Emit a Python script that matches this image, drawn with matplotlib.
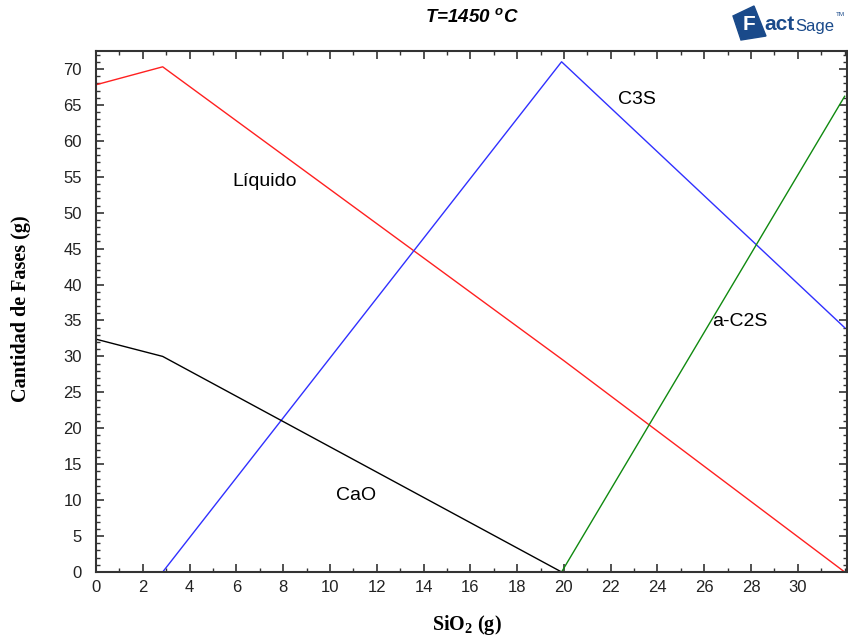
import matplotlib
matplotlib.use("Agg")
import matplotlib.pyplot as plt
from matplotlib.ticker import MultipleLocator
from matplotlib.patches import Polygon

# Data (SiO2 grams vs phase amounts)
liq_x = [0, 2.85, 20.0, 32.0]
liq_y = [67.8, 70.3, 29.4, 0.0]
c3s_x = [2.85, 19.9, 32.0]
c3s_y = [0.0, 71.0, 34.0]
c2s_x = [19.9, 32.0]
c2s_y = [0.0, 66.2]
cao_x = [0, 2.85, 19.9]
cao_y = [32.4, 30.0, 0.0]

x_ticks = list(range(0, 31, 2))
y_ticks = list(range(0, 71, 5))

fig = plt.figure(figsize=(8.48, 6.41), dpi=100)
ax = fig.add_axes([96/848, 1-572/641, (847-96)/848, (572-51)/641])

ax.plot(liq_x, liq_y, color="#ff2020", lw=1.0)
ax.plot(c3s_x, c3s_y, color="#3030ff", lw=1.0)
ax.plot(c2s_x, c2s_y, color="#108a10", lw=1.0)
ax.plot(cao_x, cao_y, color="#000000", lw=1.0)

ax.set_xlim(0, 32.1)
ax.set_ylim(0, 72.5)
ax.set_xticks(x_ticks)
ax.set_yticks(y_ticks)
ax.xaxis.set_minor_locator(MultipleLocator(1))
ax.yaxis.set_minor_locator(MultipleLocator(1))
ax.tick_params(which="both", direction="in", top=True, right=True, color="#333333")
ax.tick_params(which="major", length=6, width=1.2)
ax.tick_params(which="minor", length=3, width=1.0)
ax.tick_params(axis="x", which="major", pad=6)
ax.tick_params(axis="y", which="major", pad=10)
for lab in ax.get_xticklabels() + ax.get_yticklabels():
    lab.set_fontfamily("Liberation Sans")
    lab.set_fontsize(12)
    lab.set_color("#222222")
for sp in ax.spines.values():
    sp.set_linewidth(1.5)
    sp.set_color("#333333")

fig.text(467/848, 1-625/641, "SiO$_\\mathregular{2}$ (g)", ha="center", va="center",
         fontfamily="Liberation Serif", fontweight="bold", fontsize=14.5)
fig.text(21/848, 1-309/641, "Cantidad de Fases (g)", ha="center", va="center", rotation=90,
         fontfamily="Liberation Serif", fontweight="bold", fontsize=14.5)

fig.text(472/848, 1-18/641, "T=1450 $^\\mathregular{o}$C", ha="center", va="center",
         fontfamily="Liberation Sans", fontweight="bold", fontstyle="italic", fontsize=13.5)

# FactSage logo (approximation)
navy = "#1a4a8a"
poly = Polygon([[733/848, 1-16/641], [754/848, 1-6/641], [766/848, 1-36/641], [741/848, 1-40/641]],
               closed=True, transform=fig.transFigure, color=navy)
fig.patches.append(poly)
fig.text(743/848, 1-24/641, "F", ha="left", va="center", fontfamily="Liberation Sans",
         fontweight="bold", fontsize=15, color="white")
fig.text(764/848, 1-25/641, "act", ha="left", va="center", fontfamily="Liberation Sans",
         fontweight="bold", fontsize=15, color=navy)
fig.text(795/848, 1-26/641, "Sage", ha="left", va="center", fontfamily="Liberation Sans",
         fontsize=12, color=navy)
fig.text(836/848, 1-15/641, "TM", ha="left", va="center", fontfamily="Liberation Sans",
         fontsize=4.5, color=navy)

ax.text(7.2, 54.4, "Líquido", fontfamily="Liberation Sans", fontsize=14, ha="center", va="center")
ax.text(23.1, 65.7, "C3S", fontfamily="Liberation Sans", fontsize=14, ha="center", va="center")
ax.text(27.5, 34.8, "a-C2S", fontfamily="Liberation Sans", fontsize=14, ha="center", va="center")
ax.text(11.1, 10.7, "CaO", fontfamily="Liberation Sans", fontsize=14, ha="center", va="center")

fig.savefig("out.png", dpi=100)
